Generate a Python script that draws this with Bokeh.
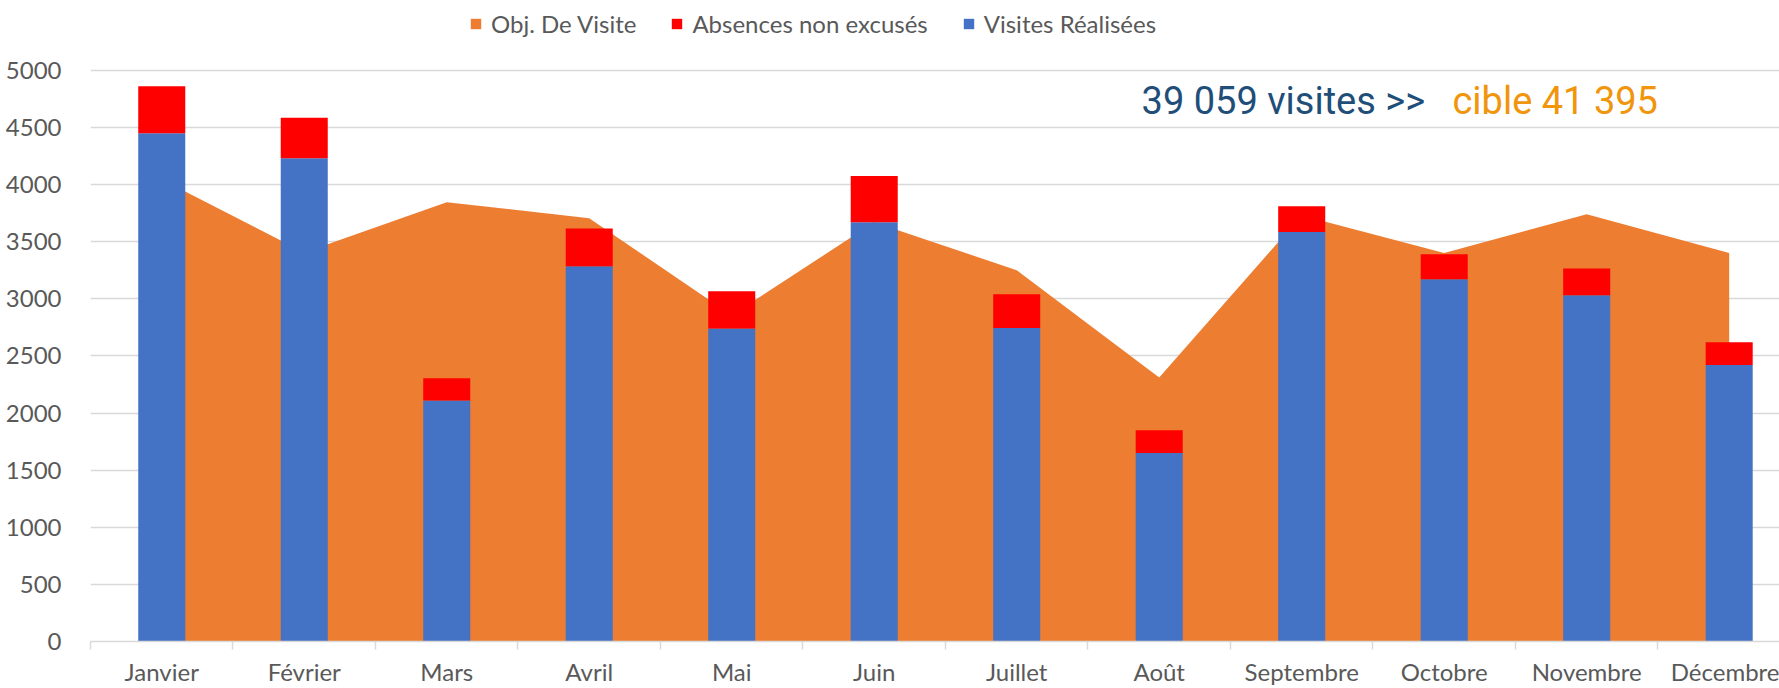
from bokeh.plotting import figure
from bokeh.models import ColumnDataSource, FixedTicker, Legend, LegendItem, Label, Range1d
from bokeh.embed import file_html
from bokeh.resources import INLINE

# ---- data ----
months = ["Janvier", "Février", "Mars", "Avril", "Mai", "Juin",
          "Juillet", "Août", "Septembre", "Octobre", "Novembre", "Décembre"]
obj_visite = [4045, 3405, 3845, 3705, 2855, 3670, 3250, 2310, 3730, 3400, 3740, 3400]
visites_realisees = [4450, 4230, 2110, 3285, 2740, 3670, 2745, 1650, 3585, 3170, 3030, 2420]
absences_non_excuses = [410, 355, 195, 330, 325, 405, 295, 200, 225, 220, 235, 200]
y_ticks = [0, 500, 1000, 1500, 2000, 2500, 3000, 3500, 4000, 4500, 5000]
series_names = ["Obj. De Visite", "Absences non excusés", "Visites Réalisées"]
headline_total = "39 059 visites >> "
headline_target = "cible 41 395"

# ---- derived columns ----
idx = list(range(len(months)))
stack_top = [v + a for v, a in zip(visites_realisees, absences_non_excuses)]
src = ColumnDataSource(dict(x=idx, month=months, obj=obj_visite,
                            vis=visites_realisees, top=stack_top,
                            zero=[0] * len(months)))

p = figure(width=1779, height=688, output_backend="svg", toolbar_location=None,
           x_range=Range1d(-0.5, 11.353), y_range=Range1d(0, 5611),
           min_border_left=90, min_border_right=0, min_border_top=0,
           min_border_bottom=40)
p.outline_line_color = None
p.background_fill_color = "white"
p.border_fill_color = "white"

area = p.varea(x="x", y1="zero", y2="obj", source=src, fill_color="#ED7D31")
blue = p.vbar(x="x", bottom="zero", top="vis", width=0.33, source=src,
              fill_color="#4472C4", line_color=None)
red = p.vbar(x="x", bottom="vis", top="top", width=0.33, source=src,
             fill_color="#FF0000", line_color=None)

# x axis: labels at category centres, small ticks at category boundaries
xa = p.xaxis[0]
xa.ticker = FixedTicker(ticks=idx, minor_ticks=[i - 0.5 for i in range(len(months) + 1)])
xa.major_label_overrides = {i: m for i, m in zip(idx, months)}
xa.major_tick_line_color = None
xa.major_tick_out = 0
xa.major_tick_in = 0
xa.minor_tick_line_color = "#D9D9D9"
xa.minor_tick_line_width = 1.5
xa.minor_tick_out = 8
xa.minor_tick_in = 0
xa.axis_line_color = "#D9D9D9"
xa.axis_line_width = 1.5
xa.major_label_text_font = "Lato"
xa.major_label_text_font_size = "24px"
xa.major_label_text_color = "#595959"
xa.major_label_standoff = 7

ya = p.yaxis[0]
ya.ticker = FixedTicker(ticks=y_ticks)
ya.axis_line_color = None
ya.major_tick_line_color = None
ya.minor_tick_line_color = None
ya.major_label_text_font = "Lato"
ya.major_label_text_font_size = "24px"
ya.major_label_text_color = "#595959"
ya.major_label_standoff = 23

p.xgrid.visible = False
p.ygrid.ticker = FixedTicker(ticks=y_ticks)
p.ygrid.grid_line_color = "#D9D9D9"
p.ygrid.grid_line_width = 1.5

legend = Legend(items=[LegendItem(label=series_names[0], renderers=[area]),
                       LegendItem(label=series_names[1], renderers=[red]),
                       LegendItem(label=series_names[2], renderers=[blue])],
                orientation="horizontal", location=(379, 603),
                padding=0, margin=0, spacing=34, label_standoff=9,
                glyph_width=13, glyph_height=13,
                border_line_color=None, background_fill_alpha=0,
                label_text_font="Lato", label_text_font_size="24px",
                label_text_color="#595959")
p.add_layout(legend)

p.add_layout(Label(x=6.876, y=4732, text=headline_total, text_font="Roboto",
                   text_font_size="38px", text_color="#1F4E79",
                   text_baseline="alphabetic"))
p.add_layout(Label(x=9.058, y=4732, text=headline_target, text_font="Roboto",
                   text_font_size="38px", text_color="#F0950C",
                   text_baseline="alphabetic"))

open("out.html", "w").write(file_html(p, INLINE))
